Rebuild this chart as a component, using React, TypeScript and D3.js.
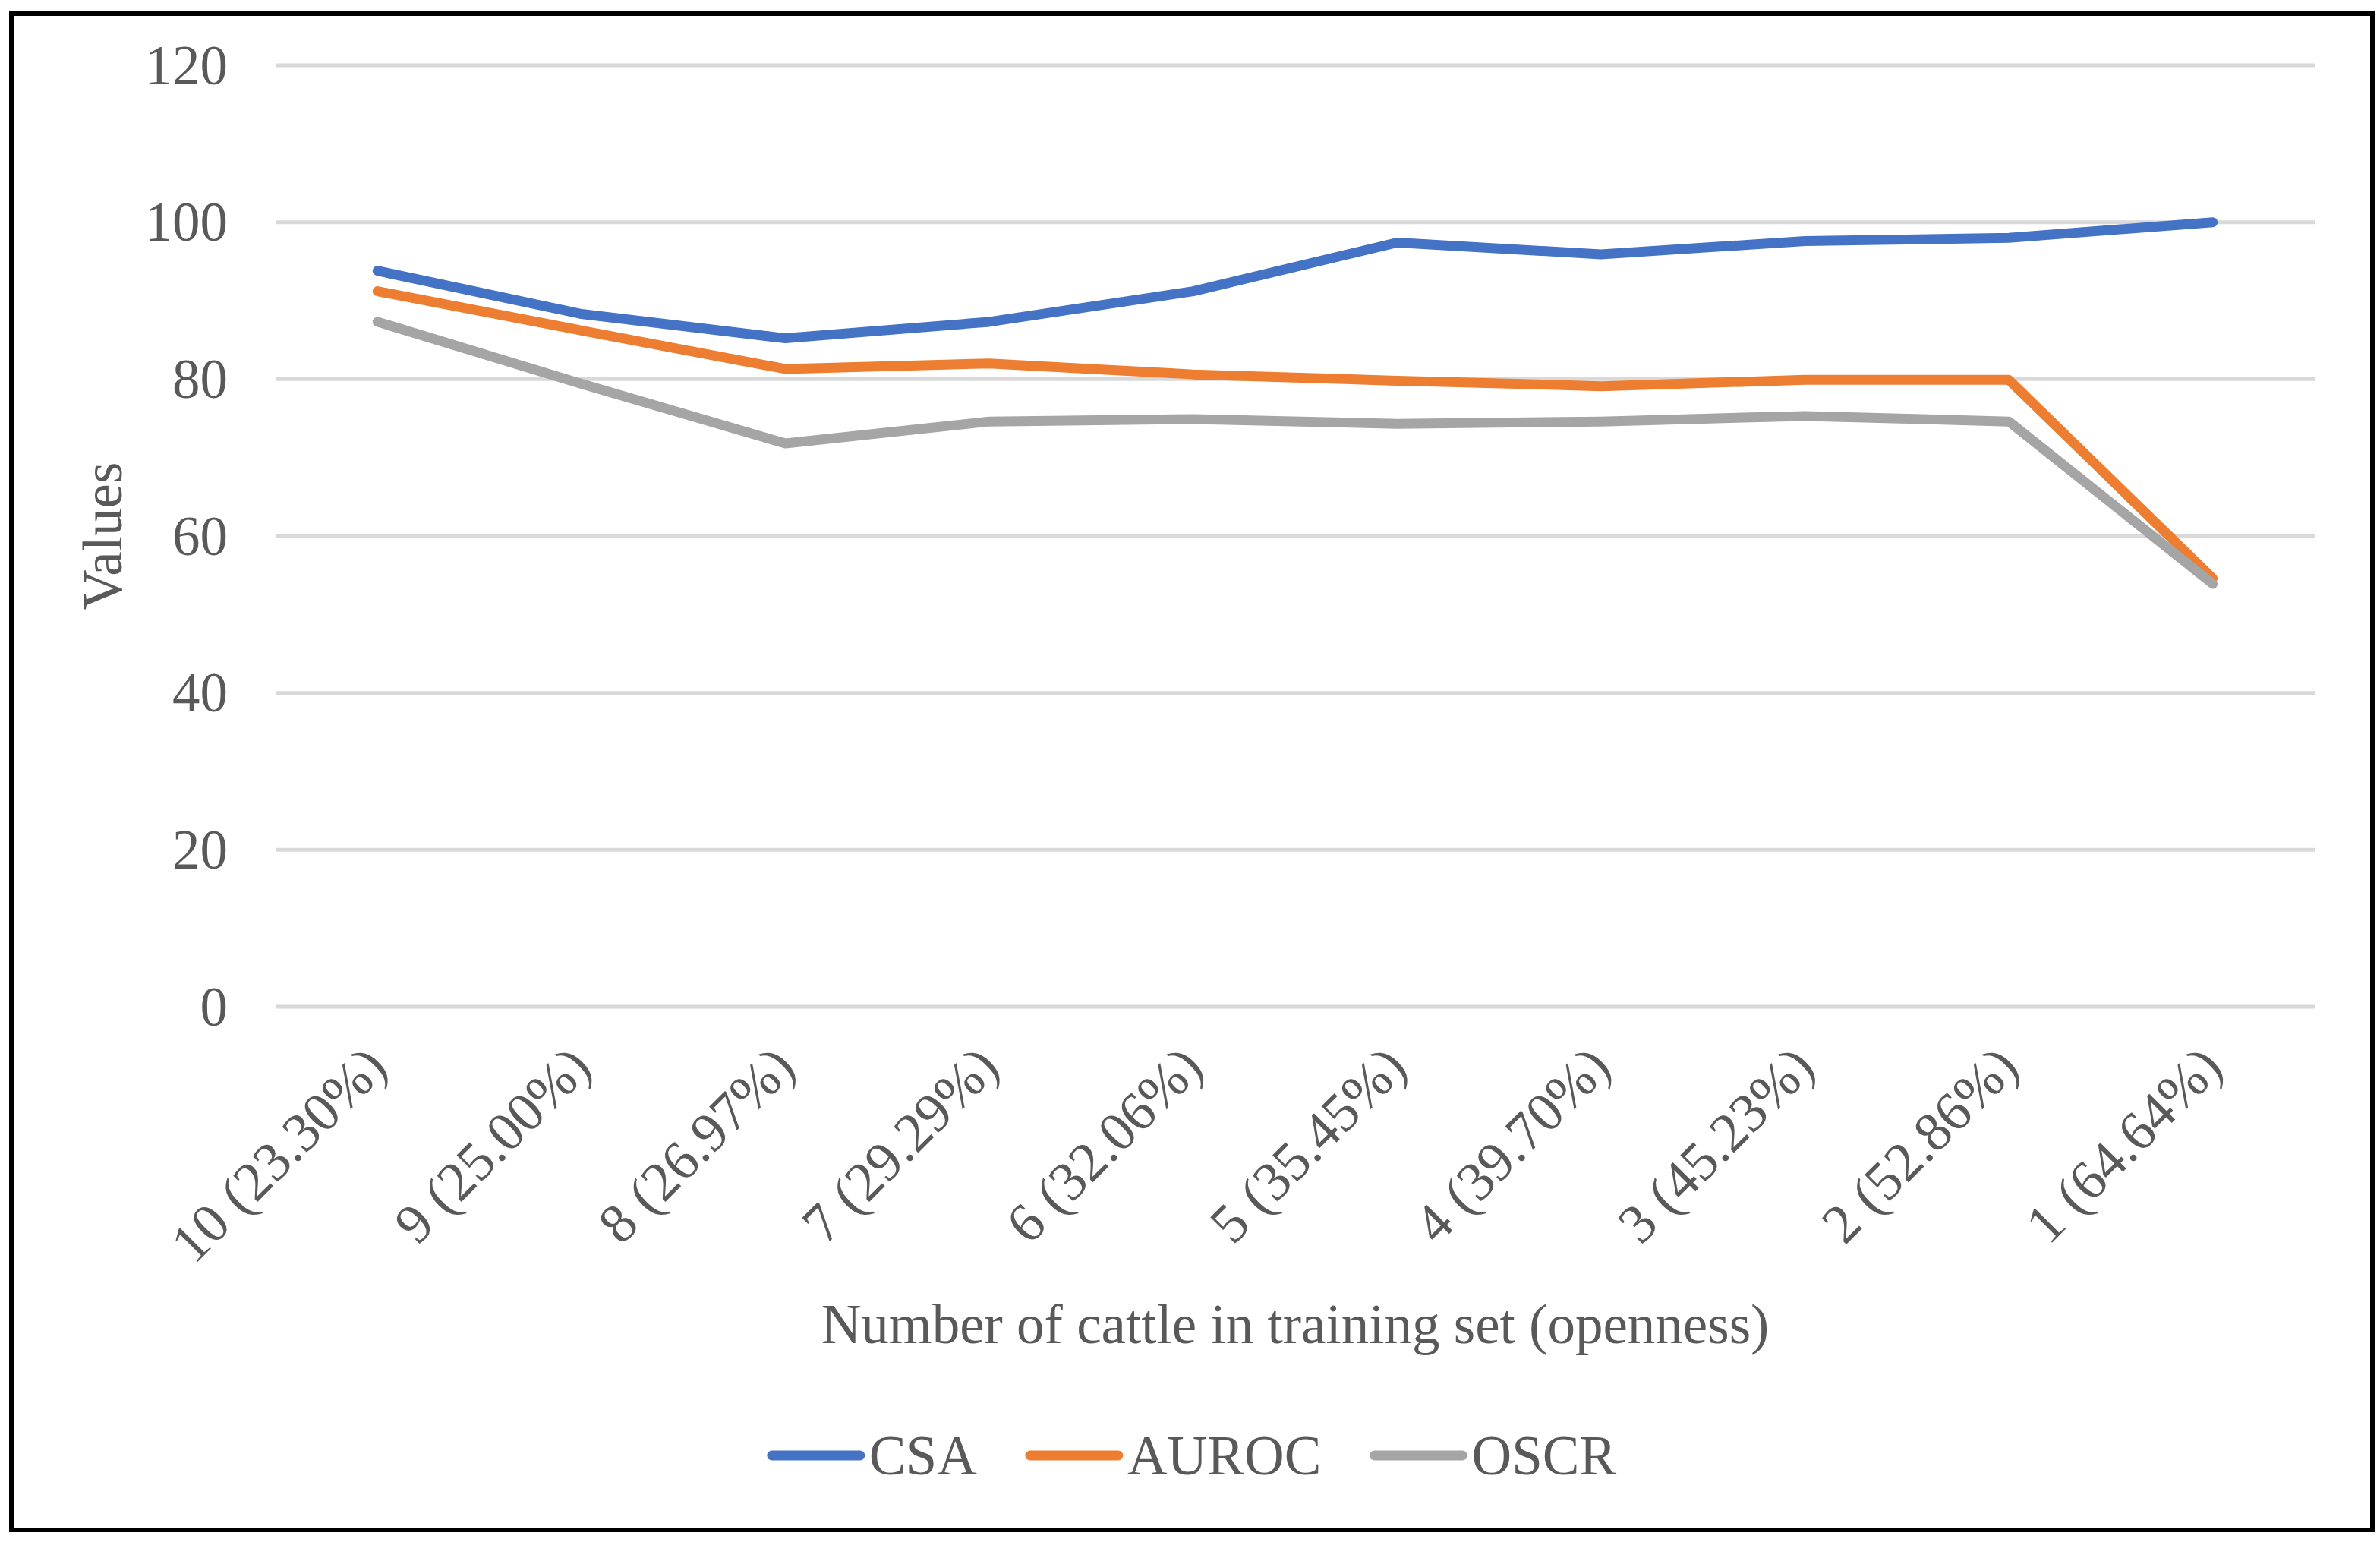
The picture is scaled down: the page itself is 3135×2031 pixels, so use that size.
import { useEffect, useRef } from 'react';
import * as d3 from 'd3';

// Category labels along the x axis
const categories = [
  '10 (23.30%)',
  '9 (25.00%)',
  '8 (26.97%)',
  '7 (29.29%)',
  '6 (32.06%)',
  '5 (35.45%)',
  '4 (39.70%)',
  '3 (45.23%)',
  '2 (52.86%)',
  '1 (64.64%)',
];

const seriesNames = ['CSA', 'AUROC', 'OSCR'];
const seriesColors = ['#4472C4', '#ED7D31', '#A5A5A5'];

const csaValues = [93.8, 88.3, 85.2, 87.3, 91.2, 97.4, 95.9, 97.6, 98.0, 100.0];
const aurocValues = [91.2, 86.2, 81.3, 82.0, 80.6, 79.8, 79.1, 79.9, 79.9, 54.6];
const oscrValues = [87.3, 79.4, 71.8, 74.6, 74.9, 74.3, 74.6, 75.3, 74.6, 53.9];

const yTicks = [0, 20, 40, 60, 80, 100, 120];

export default function App() {
  const svgRef = useRef<SVGSVGElement>(null);

  useEffect(() => {
    if (!svgRef.current) return;
    const width = 3135;
    const height = 2031;
    const font = '"Liberation Serif", "Times New Roman", serif';
    const textColor = '#595959';
    const fontSize = 73;

    const svg = d3.select(svgRef.current);
    svg.selectAll('*').remove();
    svg.attr('width', width).attr('height', height).attr('viewBox', `0 0 ${width} ${height}`);

    svg.append('rect').attr('width', width).attr('height', height).attr('fill', 'white');

    // outer frame
    svg.append('rect')
      .attr('x', 15).attr('y', 18)
      .attr('width', 3110).attr('height', 1997)
      .attr('fill', 'none')
      .attr('stroke', 'black')
      .attr('stroke-width', 6);

    const x = d3.scalePoint<string>().domain(categories).range([363, 3049]).padding(0.5);
    const y = d3.scaleLinear().domain([0, 120]).range([1326, 86]);

    // gridlines
    svg.append('g')
      .selectAll('line')
      .data(yTicks)
      .enter()
      .append('line')
      .attr('x1', 363).attr('x2', 3049)
      .attr('y1', d => y(d)).attr('y2', d => y(d))
      .attr('stroke', '#D9D9D9')
      .attr('stroke-width', 5);

    // y tick labels
    svg.append('g')
      .selectAll('text')
      .data(yTicks)
      .enter()
      .append('text')
      .attr('x', 300)
      .attr('y', d => y(d))
      .attr('dy', '0.34em')
      .attr('text-anchor', 'end')
      .style('font-family', font)
      .style('font-size', `${fontSize}px`)
      .style('fill', textColor)
      .text(d => d);

    // x tick labels, rotated
    svg.append('g')
      .selectAll('text')
      .data(categories)
      .enter()
      .append('text')
      .attr('transform', d => `translate(${(x(d) ?? 0) + 16},1409) rotate(-45)`)
      .attr('text-anchor', 'end')
      .style('font-family', font)
      .style('font-size', `${fontSize}px`)
      .style('fill', textColor)
      .text(d => d);

    // axis titles
    svg.append('text')
      .attr('x', (363 + 3049) / 2)
      .attr('y', 1769)
      .attr('text-anchor', 'middle')
      .style('font-family', font)
      .style('font-size', `${fontSize}px`)
      .style('fill', textColor)
      .text('Number of cattle in training set (openness)');

    svg.append('text')
      .attr('transform', `translate(160,${(86 + 1326) / 2}) rotate(-90)`)
      .attr('text-anchor', 'middle')
      .style('font-family', font)
      .style('font-size', `${fontSize}px`)
      .style('fill', textColor)
      .text('Values');

    // series lines
    const allSeries = [csaValues, aurocValues, oscrValues];
    const line = d3.line<number>()
      .x((_d, i) => x(categories[i]) ?? 0)
      .y(d => y(d));

    svg.append('g')
      .selectAll('path')
      .data(allSeries)
      .enter()
      .append('path')
      .attr('d', d => line(d))
      .attr('fill', 'none')
      .attr('stroke', (_d, i) => seriesColors[i])
      .attr('stroke-width', 13)
      .attr('stroke-linejoin', 'round')
      .attr('stroke-linecap', 'round');

    // legend, centred on the frame
    const legend = svg.append('g');
    const swatch = 128;
    const swatchGap = 6;
    const itemGap = 64;
    const items = seriesNames.map((name, i) => {
      const g = legend.append('g');
      g.append('line')
        .attr('x1', 6).attr('x2', swatch - 6)
        .attr('y1', 0).attr('y2', 0)
        .attr('stroke', seriesColors[i])
        .attr('stroke-width', 13)
        .attr('stroke-linecap', 'round');
      const t = g.append('text')
        .attr('x', swatch + swatchGap)
        .attr('y', 0)
        .attr('dy', '0.34em')
        .style('font-family', font)
        .style('font-size', `${fontSize}px`)
        .style('fill', textColor)
        .text(name);
      const w = (t.node() as SVGTextElement).getComputedTextLength();
      return { g, w: swatch + swatchGap + w };
    });
    const total = d3.sum(items, d => d.w) + itemGap * (items.length - 1);
    let cx = (15 + 3125) / 2 - total / 2;
    items.forEach(it => {
      it.g.attr('transform', `translate(${cx},1917)`);
      cx += it.w + itemGap;
    });
  }, []);

  return (
    <svg
      ref={svgRef}
      style={{ position: 'absolute', left: 0, top: 0, display: 'block' }}
    />
  );
}
